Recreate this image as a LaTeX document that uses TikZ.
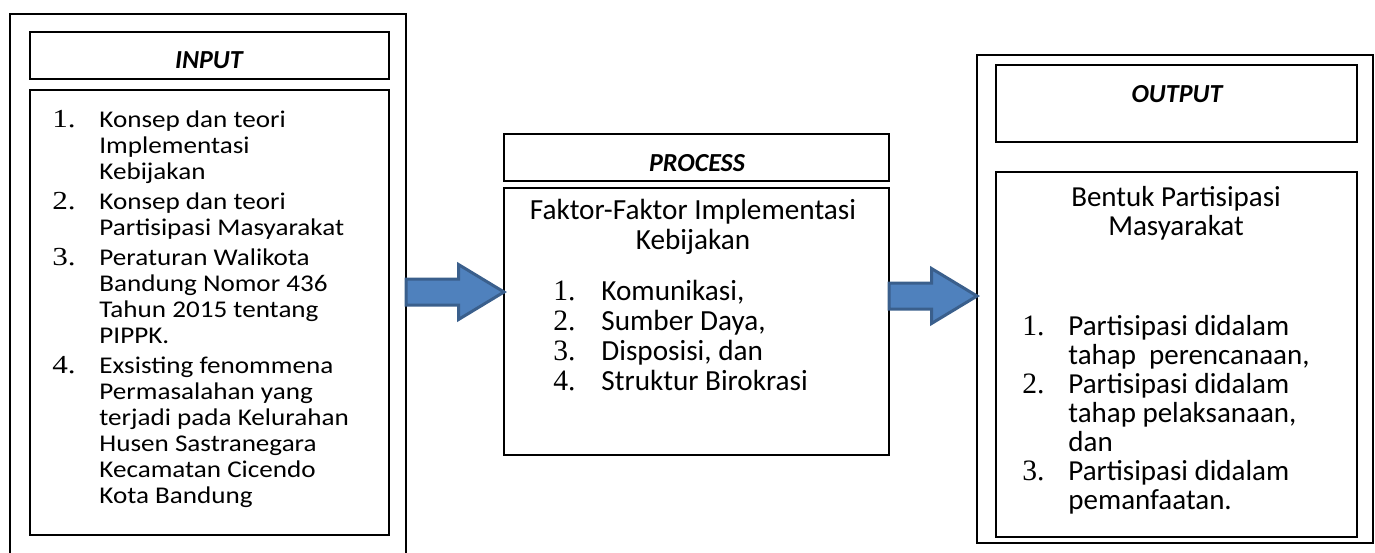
\documentclass[tikz,border=0pt]{standalone}
\usepackage{fontspec}
\setmainfont{Carlito}
\newfontfamily\stretchfont[FakeStretch=1.13]{Carlito}
\newfontfamily\numfont{Liberation Serif}
\newfontfamily\stretchnum[FakeStretch=1.2]{Liberation Serif}
\usetikzlibrary{calc}
\definecolor{arrowblue}{HTML}{4F81BD}
\definecolor{arrowedge}{HTML}{3A5F8C}

\tikzset{
  frame/.style={draw,line width=1.3pt,inner sep=0pt,outer sep=0pt},
  headlbl/.style={anchor=base,inner sep=0pt,font=\fontsize{13}{15}\selectfont\bfseries\itshape},
  innum/.style={anchor=base west,inner sep=0pt,font=\stretchnum\fontsize{13}{13}\selectfont},
  intext/.style={anchor=base west,inner sep=0pt,align=left,font=\stretchfont\fontsize{12}{13}\selectfont},
  bignum/.style={anchor=base west,inner sep=0pt,align=left,font=\numfont\fontsize{14.8}{15}\selectfont},
  proctext/.style={inner sep=0pt,font=\fontsize{14.6}{15}\selectfont},
  outtext/.style={inner sep=0pt,font=\fontsize{14.5}{14.5}\selectfont},
  blockarrow/.style={fill=arrowblue,draw=arrowedge,line width=1.5pt,line join=miter,
    to path={let \p1=(\tikztostart),\p2=(\tikztotarget) in
      (\x1,\y1+6.5pt) -- (\x2-22.75pt,\y1+6.5pt) -- (\x2-22.75pt,\y1+13.75pt) -- (\x2,\y2)
      -- (\x2-22.75pt,\y1-13.75pt) -- (\x2-22.75pt,\y1-6.5pt) -- (\x1,\y1-6.5pt) -- cycle}}
}

\begin{document}
\begin{tikzpicture}[x=0.5pt,y=-0.5pt]
\useasboundingbox (0,0) rectangle (1375,552);

% input column (multi-line texts sit on their last baseline)
\node[frame,minimum width=198pt,minimum height=278pt] (inouter) at (208,292) {};
\node[frame,minimum width=179.5pt,minimum height=23.5pt] (inhead) at (209.5,55.5) {};
\node[frame,minimum width=179.5pt,minimum height=222.5pt] (inbody) at (209.5,312.5) {};
\node[headlbl] (inlbl) at (209,68) {INPUT};
\node[innum] (inn1) at (52,127) {1.};
\node[intext] (int1) at (99,179) {Konsep dan teori\\Implementasi\\Kebijakan};
\node[innum] (inn2) at (52,209) {2.};
\node[intext] (int2) at (99,235) {Konsep dan teori\\Partisipasi Masyarakat};
\node[innum] (inn3) at (52,265) {3.};
\node[intext] (int3) at (99,343) {Peraturan Walikota\\Bandung Nomor 436\\Tahun 2015 tentang\\PIPPK.};
\node[innum] (inn4) at (52,373) {4.};
\node[intext] (int4) at (99,503) {Exsisting fenommena\\Permasalahan yang\\terjadi pada Kelurahan\\Husen Sastranegara\\Kecamatan Cicendo\\Kota Bandung};

% process column
\node[frame,minimum width=192.5pt,minimum height=23.5pt] (prochead) at (696.5,157.5) {};
\node[frame,minimum width=192.5pt,minimum height=133.5pt] (procbody) at (696.5,321.5) {};
\node[headlbl] (proclbl) at (697,171) {PROCESS};
\node[proctext,anchor=base,align=center] (proctitle) at (693,249) {Faktor-Faktor Implementasi\\Kebijakan};
\node[bignum] (procnum) at (553,390) {1.\\2.\\3.\\4.};
\node[proctext,anchor=base west,align=left] (proclist) at (601,390) {Komunikasi,\\Sumber Daya,\\Disposisi, dan\\Struktur Birokrasi};

% output column
\node[frame,minimum width=198pt,minimum height=244pt] (outouter) at (1175,299) {};
\node[frame,minimum width=180.5pt,minimum height=38.5pt] (outhead) at (1176.5,103.5) {};
\node[frame,minimum width=180.5pt,minimum height=182.5pt] (outbody) at (1176.5,354.5) {};
\node[headlbl] (outlbl) at (1177,102) {OUTPUT};
\node[outtext,anchor=base,align=center] (outtitle) at (1176,235) {Bentuk Partisipasi\\Masyarakat};
\node[bignum] (outn1) at (1022,335) {1.};
\node[bignum] (outn2) at (1022,393) {2.};
\node[bignum] (outn3) at (1022,480) {3.};
\node[outtext,anchor=base west,align=left] (outlist) at (1068,509) {Partisipasi didalam\\tahap\ \ perencanaan,\\Partisipasi didalam\\tahap pelaksanaan,\\dan\\Partisipasi didalam\\pemanfaatan.};

% block arrows
\coordinate (arrA) at (0,292);
\coordinate (arrB) at (0,296);
\draw[blockarrow] (inouter.east |- arrA) to (procbody.west |- arrA);
\draw[blockarrow] (procbody.east |- arrB) to (outouter.west |- arrB);
\end{tikzpicture}
\end{document}
